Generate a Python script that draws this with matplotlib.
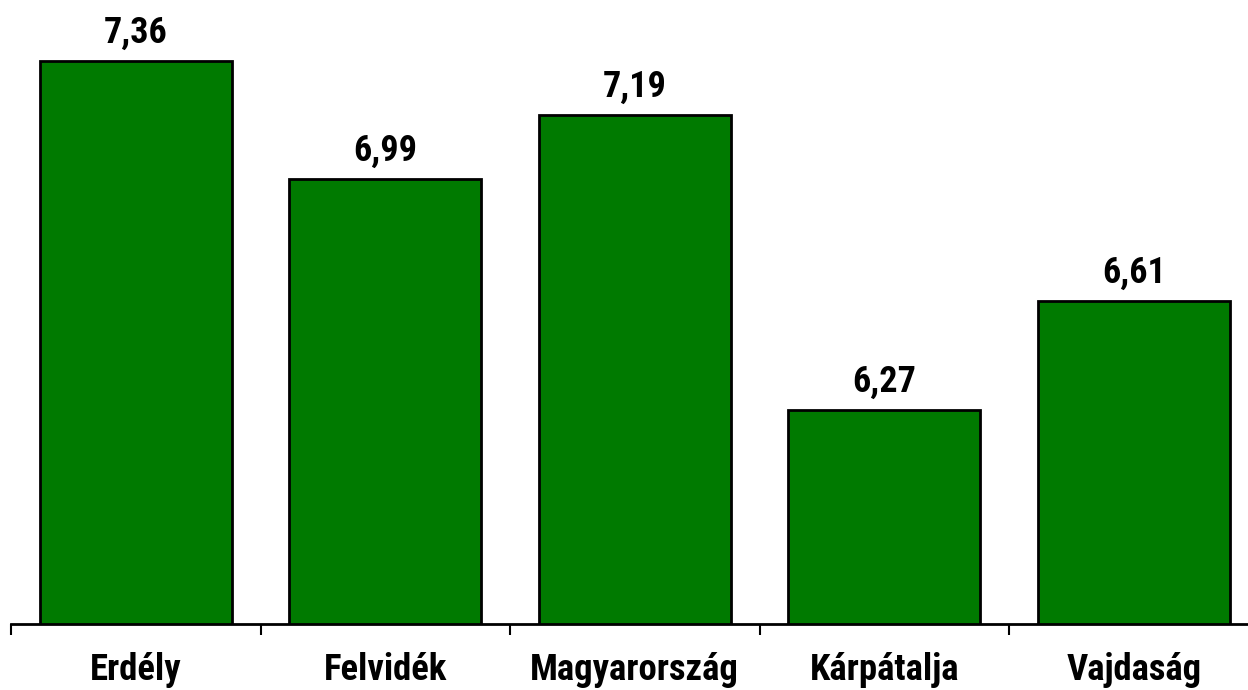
import matplotlib.pyplot as plt
import numpy as np

regions = ['Erdély', 'Felvidék', 'Magyarország', 'Kárpátalja', 'Vajdaság']
values = [7.36, 6.99, 7.19, 6.27, 6.61]
labels = ['7,36', '6,99', '7,19', '6,27', '6,61']

font = ['Roboto Condensed', 'Liberation Sans', 'DejaVu Sans']

fig = plt.figure(figsize=(12.48, 6.90), dpi=100)
ax = fig.add_axes([11 / 1248, 66 / 690, 1247.5 / 1248, 624 / 690])

x = np.arange(len(regions))
ax.bar(x, values, width=0.77, bottom=0, color='#007a00', edgecolor='black', linewidth=2)

for xi, v, lab in zip(x, values, labels):
    ax.annotate(lab, (xi, v), xytext=(0, 13), textcoords='offset points',
                ha='center', va='baseline', fontsize=26, fontweight='bold', family=font)

ax.set_xlim(-0.5, 4.5)
ax.set_ylim(5.6, 7.55)

# ticks at category boundaries, labels in the middle
ax.set_xticks(np.arange(-0.5, 5.0, 1.0))
ax.set_xticklabels([])
ax.set_xticks(x, minor=True)
ax.set_xticklabels(regions, minor=True, fontsize=26.5, fontweight='bold', family=font)
ax.tick_params(axis='x', which='major', direction='out', length=8, width=1.5)
ax.tick_params(axis='x', which='minor', length=0, pad=20)

ax.set_yticks([])
for s in ['left', 'right', 'top']:
    ax.spines[s].set_visible(False)
ax.spines['bottom'].set_linewidth(2)

fig.savefig('out.png', dpi=100)
